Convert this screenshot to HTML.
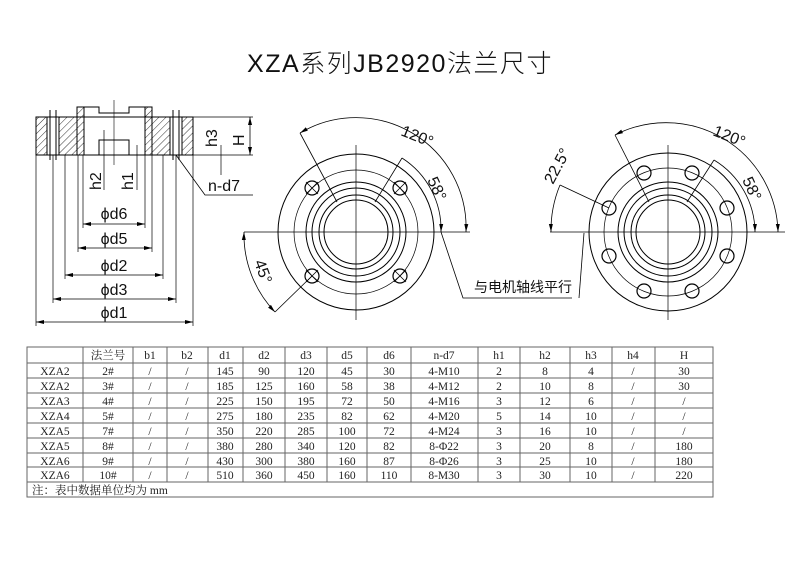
<!DOCTYPE html>
<html><head><meta charset="utf-8"><style>
html,body{margin:0;padding:0;background:#fff;}
svg{display:block}
.t{font-family:"Liberation Sans","Noto Sans CJK SC",sans-serif;}
.tb{font-family:"Liberation Serif","Noto Serif CJK SC",serif;font-size:11.5px;fill:#222;}
</style></head><body>
<svg width="800" height="566" viewBox="0 0 800 566" xmlns="http://www.w3.org/2000/svg">
<defs>
<pattern id="h" width="5" height="5" patternUnits="userSpaceOnUse" patternTransform="rotate(45)">
<line x1="0" y1="0" x2="0" y2="5" stroke="#000" stroke-width="0.8"/></pattern>
<marker id="a" markerWidth="8" markerHeight="6" refX="8" refY="3" orient="auto-start-reverse" markerUnits="userSpaceOnUse"><path d="M0,1 L8,3 L0,5z" fill="#000"/></marker>
</defs>
<text x="400" y="72" text-anchor="middle" class="t" font-size="25" font-weight="300" letter-spacing="1.5" fill="#111">XZA系列JB2920法兰尺寸</text>

<g stroke="#000" fill="none" stroke-width="1">
<rect x="36" y="117" width="11" height="38" fill="url(#h)"/>
<rect x="59" y="117" width="18" height="38" fill="url(#h)"/>
<rect x="152" y="117" width="18" height="38" fill="url(#h)"/>
<rect x="182" y="117" width="11" height="38" fill="url(#h)"/>
<rect x="77" y="107" width="7" height="48" fill="url(#h)"/>
<rect x="145" y="107" width="7" height="48" fill="url(#h)"/>
<line x1="36" y1="117" x2="193" y2="117"/>
<line x1="36" y1="155" x2="193" y2="155"/>
<path d="M77,107 H99 V113 H129 V107 H152"/>
<path d="M84,155 V150 M99,155 V140 H129 V155"/>
<line x1="50" y1="110" x2="50" y2="160"/><line x1="56" y1="110" x2="56" y2="160"/>
<line x1="173" y1="110" x2="173" y2="160"/><line x1="179" y1="110" x2="179" y2="160"/>
<line x1="114" y1="100" x2="114" y2="165" stroke-width="0.6"/>
<line x1="36" y1="155" x2="36" y2="326" stroke-width="0.7"/>
<line x1="193" y1="155" x2="193" y2="326" stroke-width="0.7"/>
<line x1="53" y1="155" x2="53" y2="303" stroke-width="0.7"/>
<line x1="176" y1="155" x2="176" y2="303" stroke-width="0.7"/>
<line x1="65" y1="155" x2="65" y2="279" stroke-width="0.7"/>
<line x1="163" y1="155" x2="163" y2="279" stroke-width="0.7"/>
<line x1="78" y1="155" x2="78" y2="252" stroke-width="0.7"/>
<line x1="152" y1="155" x2="152" y2="252" stroke-width="0.7"/>
<line x1="83" y1="155" x2="83" y2="228" stroke-width="0.7"/>
<line x1="145" y1="155" x2="145" y2="228" stroke-width="0.7"/>
<g stroke-width="0.8" marker-start="url(#a)" marker-end="url(#a)">
<line x1="36" y1="322" x2="193" y2="322"/>
<line x1="53" y1="299" x2="176" y2="299"/>
<line x1="65" y1="275" x2="163" y2="275"/>
<line x1="78" y1="248" x2="152" y2="248"/>
<line x1="83" y1="224" x2="145" y2="224"/>
</g>
<line x1="104" y1="130" x2="104" y2="190" stroke-width="0.7"/>
<line x1="137" y1="145" x2="137" y2="190" stroke-width="0.7"/>
<line x1="193" y1="117" x2="253" y2="117" stroke-width="0.7"/>
<line x1="193" y1="155" x2="253" y2="155" stroke-width="0.7"/>
<line x1="250" y1="117" x2="250" y2="155" stroke-width="0.8" marker-start="url(#a)" marker-end="url(#a)"/>
<line x1="221" y1="145" x2="221" y2="175" stroke-width="0.7"/>
<path d="M176,155 L205,195 H253" stroke-width="0.8"/>
</g>
<g class="t" font-size="16" fill="#111">
<text x="114" y="219" text-anchor="middle">ϕd6</text>
<text x="114" y="244" text-anchor="middle">ϕd5</text>
<text x="114" y="271" text-anchor="middle">ϕd2</text>
<text x="114" y="295" text-anchor="middle">ϕd3</text>
<text x="114" y="318" text-anchor="middle">ϕd1</text>
<text x="208" y="191">n-d7</text>
<text transform="translate(101,190) rotate(-90)">h2</text>
<text transform="translate(133,190) rotate(-90)">h1</text>
<text transform="translate(217,147) rotate(-90)">h3</text>
<text transform="translate(244,146) rotate(-90)">H</text>
</g>

<g stroke="#000" fill="none" stroke-width="1">
<circle cx="356" cy="232" r="78"/>
<circle cx="356" cy="232" r="62" stroke-width="0.7"/>
<circle cx="356" cy="232" r="50"/>
<circle cx="356" cy="232" r="44"/>
<circle cx="356" cy="232" r="37"/>
<circle cx="356" cy="232" r="32"/>
<line x1="356" y1="145" x2="356" y2="320" stroke-width="0.7"/>
<line x1="244" y1="232" x2="470" y2="232" stroke-width="0.7"/>
<g stroke-width="1.2">
<circle cx="312" cy="188" r="7"/><circle cx="400" cy="188" r="7"/>
<circle cx="312" cy="276" r="7"/><circle cx="400" cy="276" r="7"/>
</g>
<path d="M306,182 l12,12 M318,182 l-12,12 M394,182 l12,12 M406,182 l-12,12 M306,270 l12,12 M318,270 l-12,12 M394,270 l12,12 M406,270 l-12,12" stroke-width="0.8"/>
<line x1="337" y1="202" x2="300" y2="133" stroke-width="0.8"/>
<line x1="375" y1="202" x2="402" y2="158" stroke-width="0.8"/>
<line x1="312" y1="276" x2="275" y2="312" stroke-width="0.8"/>
<path d="M300,133 A110,110 0 0 1 466,232" stroke-width="0.8" marker-start="url(#a)" marker-end="url(#a)"/>
<path d="M402,158 A85,85 0 0 1 441,232" stroke-width="0.8" marker-end="url(#a)"/>
<path d="M244,232 A112,112 0 0 0 275,312" stroke-width="0.8" marker-start="url(#a)" marker-end="url(#a)"/>
<path d="M441,232 L463,298 H572" stroke-width="0.8"/>
</g>
<g class="t" font-size="16" fill="#111">
<text transform="translate(400,135) rotate(22)">120°</text>
<text transform="translate(427,180) rotate(65)">58°</text>
<text transform="translate(254,262) rotate(70)">45°</text>
<text x="474" y="292" font-size="14">与电机轴线平行</text>
</g>

<g stroke="#000" fill="none" stroke-width="1">
<circle cx="668" cy="232" r="79"/>
<circle cx="668" cy="232" r="64" stroke-width="0.7"/>
<circle cx="668" cy="232" r="50"/>
<circle cx="668" cy="232" r="44"/>
<circle cx="668" cy="232" r="37"/>
<circle cx="668" cy="232" r="32"/>
<line x1="668" y1="145" x2="668" y2="320" stroke-width="0.7"/>
<line x1="550" y1="232" x2="785" y2="232" stroke-width="0.7"/>
<g stroke-width="1.2">
<circle cx="609" cy="208" r="7"/><circle cx="727" cy="208" r="7"/>
<circle cx="609" cy="256" r="7"/><circle cx="727" cy="256" r="7"/>
<circle cx="644" cy="173" r="7"/><circle cx="692" cy="173" r="7"/>
<circle cx="644" cy="291" r="7"/><circle cx="692" cy="291" r="7"/>
</g>
<line x1="649" y1="202" x2="615" y2="135" stroke-width="0.8"/>
<line x1="687" y1="202" x2="714" y2="160" stroke-width="0.8"/>
<line x1="609" y1="208" x2="560" y2="185" stroke-width="0.8"/>
<path d="M615,135 A112,112 0 0 1 778,232" stroke-width="0.8" marker-start="url(#a)" marker-end="url(#a)"/>
<path d="M714,160 A85,85 0 0 1 755,232" stroke-width="0.8" marker-end="url(#a)"/>
<path d="M551,232 A118,118 0 0 1 560,185" stroke-width="0.8" marker-start="url(#a)"/>
<path d="M584,233 L579,298" stroke-width="0.8"/>
</g>
<g class="t" font-size="16" fill="#111">
<text transform="translate(712,135) rotate(22)">120°</text>
<text transform="translate(742,180) rotate(65)">58°</text>
<text transform="translate(553,185) rotate(-62)">22.5°</text>
</g>

<g stroke="#666" stroke-width="1" fill="none">
<rect x="27" y="347" width="686" height="150"/>
<path d="M27,363H713 M27,378H713 M27,393H713 M27,408H713 M27,423H713 M27,438H713 M27,453H713 M27,467H713 M27,482H713"/>
<path d="M83,347V482 M133,347V482 M167,347V482 M208,347V482 M243,347V482 M285,347V482 M327,347V482 M367,347V482 M411,347V482 M478,347V482 M520,347V482 M570,347V482 M612,347V482 M655,347V482"/>
</g>
<g class="tb" text-anchor="middle">
<text x="108" y="359">法兰号</text><text x="150" y="359">b1</text><text x="187" y="359">b2</text><text x="225" y="359">d1</text><text x="264" y="359">d2</text><text x="306" y="359">d3</text><text x="347" y="359">d5</text><text x="389" y="359">d6</text><text x="444" y="359">n-d7</text><text x="499" y="359">h1</text><text x="545" y="359">h2</text><text x="591" y="359">h3</text><text x="633" y="359">h4</text><text x="684" y="359">H</text>
</g>
<g class="tb" text-anchor="middle">
<g transform="translate(0,375)"><text x="55">XZA2</text><text x="108">2#</text><text x="150">/</text><text x="187">/</text><text x="225">145</text><text x="264">90</text><text x="306">120</text><text x="347">45</text><text x="389">30</text><text x="444">4-M10</text><text x="499">2</text><text x="545">8</text><text x="591">4</text><text x="633">/</text><text x="684">30</text></g>
<g transform="translate(0,390)"><text x="55">XZA2</text><text x="108">3#</text><text x="150">/</text><text x="187">/</text><text x="225">185</text><text x="264">125</text><text x="306">160</text><text x="347">58</text><text x="389">38</text><text x="444">4-M12</text><text x="499">2</text><text x="545">10</text><text x="591">8</text><text x="633">/</text><text x="684">30</text></g>
<g transform="translate(0,405)"><text x="55">XZA3</text><text x="108">4#</text><text x="150">/</text><text x="187">/</text><text x="225">225</text><text x="264">150</text><text x="306">195</text><text x="347">72</text><text x="389">50</text><text x="444">4-M16</text><text x="499">3</text><text x="545">12</text><text x="591">6</text><text x="633">/</text><text x="684">/</text></g>
<g transform="translate(0,420)"><text x="55">XZA4</text><text x="108">5#</text><text x="150">/</text><text x="187">/</text><text x="225">275</text><text x="264">180</text><text x="306">235</text><text x="347">82</text><text x="389">62</text><text x="444">4-M20</text><text x="499">5</text><text x="545">14</text><text x="591">10</text><text x="633">/</text><text x="684">/</text></g>
<g transform="translate(0,435)"><text x="55">XZA5</text><text x="108">7#</text><text x="150">/</text><text x="187">/</text><text x="225">350</text><text x="264">220</text><text x="306">285</text><text x="347">100</text><text x="389">72</text><text x="444">4-M24</text><text x="499">3</text><text x="545">16</text><text x="591">10</text><text x="633">/</text><text x="684">/</text></g>
<g transform="translate(0,450)"><text x="55">XZA5</text><text x="108">8#</text><text x="150">/</text><text x="187">/</text><text x="225">380</text><text x="264">280</text><text x="306">340</text><text x="347">120</text><text x="389">82</text><text x="444">8-Φ22</text><text x="499">3</text><text x="545">20</text><text x="591">8</text><text x="633">/</text><text x="684">180</text></g>
<g transform="translate(0,465)"><text x="55">XZA6</text><text x="108">9#</text><text x="150">/</text><text x="187">/</text><text x="225">430</text><text x="264">300</text><text x="306">380</text><text x="347">160</text><text x="389">87</text><text x="444">8-Φ26</text><text x="499">3</text><text x="545">25</text><text x="591">10</text><text x="633">/</text><text x="684">180</text></g>
<g transform="translate(0,479)"><text x="55">XZA6</text><text x="108">10#</text><text x="150">/</text><text x="187">/</text><text x="225">510</text><text x="264">360</text><text x="306">450</text><text x="347">160</text><text x="389">110</text><text x="444">8-M30</text><text x="499">3</text><text x="545">30</text><text x="591">10</text><text x="633">/</text><text x="684">220</text></g>
</g>
<text x="32" y="494" class="tb">注：表中数据单位均为 mm</text>
</svg>
</body></html>
